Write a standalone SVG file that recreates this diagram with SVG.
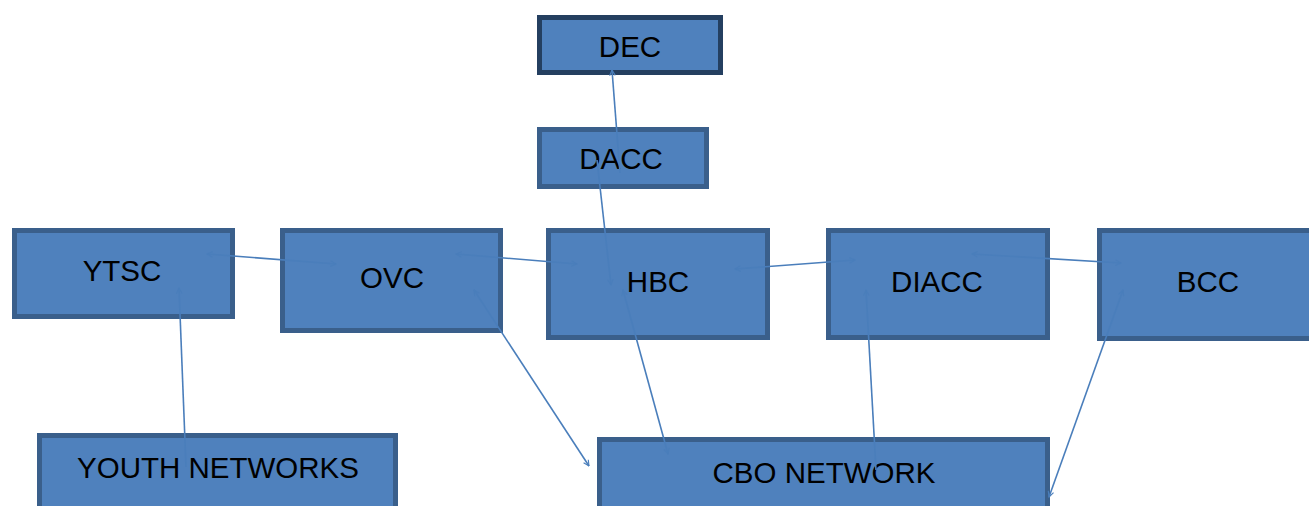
<svg xmlns="http://www.w3.org/2000/svg" width="1309" height="506" viewBox="0 0 1309 506">
<style>
.box{fill:#4F81BD;stroke:#3A5F8B;stroke-width:5}
.dec{fill:#4F81BD;stroke:#243F60;stroke-width:5}
.lbl{font-family:"Liberation Sans",Arial,sans-serif;font-size:29.5px;fill:#000;text-anchor:middle;dominant-baseline:central}
.c{stroke:#4A7EBB;stroke-width:1.6;fill:none}
</style>
<defs>
<marker id="ah" viewBox="0 0 10 10" refX="9" refY="5" markerWidth="7" markerHeight="7" markerUnits="userSpaceOnUse" orient="auto-start-reverse">
<path d="M1,1 L9,5 L1,9" fill="none" stroke="#4A7EBB" stroke-width="1.6"/>
</marker>
</defs>
<rect width="1309" height="506" fill="#fff"/>
<g id="DEC"><rect class="dec" x="539.5" y="17.5" width="181" height="55"/><text class="lbl" x="630" y="46">DEC</text></g>
<g id="DACC"><rect class="box" x="539.5" y="129.5" width="167" height="57"/><text class="lbl" x="621" y="158">DACC</text></g>
<g id="YTSC"><rect class="box" x="14.5" y="230.5" width="218" height="86"/><text class="lbl" x="122" y="270">YTSC</text></g>
<g id="OVC"><rect class="box" x="282.5" y="230.5" width="218" height="100"/><text class="lbl" x="392" y="277">OVC</text></g>
<g id="HBC"><rect class="box" x="548.5" y="230.5" width="219" height="107"/><text class="lbl" x="658" y="281">HBC</text></g>
<g id="DIACC"><rect class="box" x="828.5" y="230.5" width="219" height="107"/><text class="lbl" x="937" y="281">DIACC</text></g>
<g id="BCC"><rect class="box" x="1099.5" y="230.5" width="215" height="108"/><text class="lbl" x="1208" y="281">BCC</text></g>
<g id="YOUTH_NETWORKS"><rect class="box" x="39.5" y="435.5" width="356" height="80"/><text class="lbl" x="218" y="467">YOUTH NETWORKS</text></g>
<g id="CBO_NETWORK"><rect class="box" x="599.5" y="439.5" width="448" height="80"/><text class="lbl" x="824" y="472">CBO NETWORK</text></g>
<g id="connectors">
<line class="c" x1="620" y1="173" x2="612" y2="70" marker-end="url(#ah)"/>
<line class="c" x1="597" y1="160" x2="611" y2="285" marker-end="url(#ah)"/>
<line class="c" x1="207" y1="254" x2="336" y2="264" marker-start="url(#ah)" marker-end="url(#ah)"/>
<line class="c" x1="456" y1="254" x2="577" y2="264" marker-start="url(#ah)" marker-end="url(#ah)"/>
<line class="c" x1="735" y1="269" x2="855" y2="260" marker-start="url(#ah)" marker-end="url(#ah)"/>
<line class="c" x1="972" y1="254" x2="1121" y2="263" marker-start="url(#ah)" marker-end="url(#ah)"/>
<line class="c" x1="186" y1="467" x2="179" y2="288" marker-end="url(#ah)"/>
<line class="c" x1="474" y1="290" x2="589" y2="466" marker-start="url(#ah)" marker-end="url(#ah)"/>
<line class="c" x1="623" y1="290" x2="668" y2="454" marker-start="url(#ah)" marker-end="url(#ah)"/>
<line class="c" x1="866" y1="290" x2="876" y2="470" marker-start="url(#ah)"/>
<line class="c" x1="1123" y1="290" x2="1049" y2="497" marker-start="url(#ah)" marker-end="url(#ah)"/>
</g>
</svg>
